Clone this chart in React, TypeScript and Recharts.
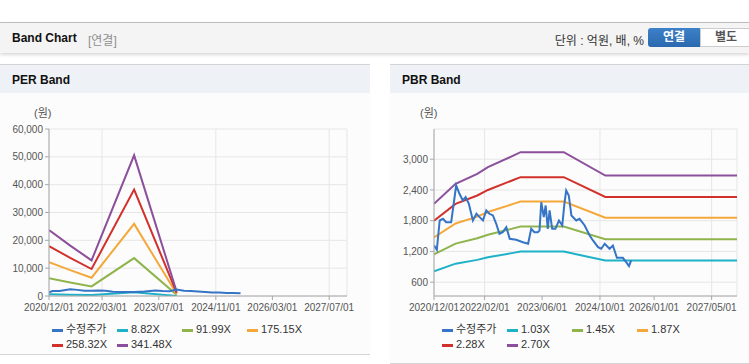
import React from 'react';
import { LineChart, Line, XAxis, YAxis, CartesianGrid } from 'recharts';

// x axis (shared time span)
const xStart = '2020/12/01';
const xEnd = '2027/12/01';
const perXTicks = ['2020/12/01', '2022/03/01', '2023/07/01', '2024/11/01', '2026/03/01', '2027/07/01'];
const pbrXTicks = ['2020/12/01', '2022/02/01', '2023/06/01', '2024/10/01', '2026/01/01', '2027/05/01'];

// y axis
const perYTicks = [0, 10000, 20000, 30000, 40000, 50000, 60000];
const pbrYTicks = [600, 1200, 1800, 2400, 3000];

// PER band
const perBandDates = ['2020/12/01', '2021/06/01', '2021/12/01', '2022/12/01', '2023/12/01'];
const per882 = [610, 470, 330, 1305, 40];
const per9199 = [6390, 4880, 3450, 13610, 415];
const per17515 = [12170, 9280, 6570, 25920, 790];
const per25832 = [17950, 13690, 9690, 38230, 1160];
const per34148 = [23730, 18100, 12800, 50540, 1540];

const perPriceDates = [
  '2020/12/01', '2021/01/01', '2021/03/01', '2021/06/01', '2021/08/01', '2021/10/01', '2021/12/01',
  '2022/02/01', '2022/04/01', '2022/06/01', '2022/09/01', '2022/12/01', '2023/03/01', '2023/06/01',
  '2023/08/01', '2023/10/01', '2023/12/01', '2024/02/01', '2024/04/01', '2024/06/01', '2024/08/01',
  '2024/10/01', '2024/12/01', '2025/02/01', '2025/04/01', '2025/06/01',
];
const perPrice = [
  1300, 1800, 1800, 2450, 2200, 1850, 1900, 2000, 1900, 1550, 1450, 1400, 1600, 1950,
  1800, 1750, 2350, 1900, 1800, 1600, 1400, 1250, 1280, 1100, 1070, 1000,
];

// PBR band
const pbrBandDates = [
  '2020/12/01', '2021/06/01', '2021/12/01', '2022/03/01', '2022/10/01', '2022/12/01',
  '2023/12/01', '2024/11/15', '2027/12/01',
];
const pbr103 = [813, 961, 1035, 1085, 1172, 1197, 1197, 1023, 1023];
const pbr145 = [1144, 1353, 1457, 1527, 1650, 1685, 1685, 1440, 1440];
const pbr187 = [1475, 1745, 1880, 1970, 2128, 2173, 2173, 1857, 1857];
const pbr228 = [1800, 2128, 2292, 2400, 2595, 2650, 2650, 2264, 2264];
const pbr270 = [2130, 2520, 2715, 2845, 3070, 3137, 3137, 2680, 2680];

const pbrPriceDates = [
  '2020/12/01', '2020/12/25', '2021/01/18', '2021/02/15', '2021/03/13', '2021/04/25', '2021/06/06',
  '2021/07/04', '2021/08/01', '2021/08/25', '2021/09/21', '2021/10/25', '2021/11/24', '2021/12/21',
  '2022/01/18', '2022/02/15', '2022/03/13', '2022/04/12', '2022/05/10', '2022/06/06', '2022/07/04',
  '2022/08/03', '2022/09/01', '2022/10/25', '2022/12/21', '2023/02/03', '2023/03/01', '2023/03/28',
  '2023/04/25', '2023/05/10', '2023/05/25', '2023/06/15', '2023/07/01', '2023/07/19', '2023/08/03',
  '2023/08/25', '2023/09/21', '2023/10/21', '2023/11/18', '2023/12/06', '2023/12/21', '2024/01/12',
  '2024/02/03', '2024/03/15', '2024/04/12', '2024/05/25', '2024/07/06', '2024/08/03', '2024/09/15',
  '2024/10/12', '2024/11/10', '2024/12/21', '2025/01/18', '2025/02/21', '2025/04/12', '2025/05/10',
  '2025/06/03', '2025/06/21',
];
const pbrPrice = [
  1320, 1232, 1804, 1837, 1771, 1771, 2487,
  2325, 2194, 2259, 2130, 1804, 1935, 1869,
  1804, 2000, 1935, 1902, 1740, 1545, 1576,
  1674, 1447, 1427, 1380, 1349, 1642, 1576,
  1576, 1609, 2161, 1869, 2097, 1642, 2000,
  1642, 1642, 1804, 1707, 2130, 2389, 2292,
  1902, 1804, 1837, 1707, 1511, 1414, 1283,
  1252, 1349, 1252, 1316, 1076, 1076, 991,
  913, 1024,
];

const colors = {
  price: '#3574c6',
  teal: '#1eb1c8',
  green: '#8fb44c',
  orange: '#f5a83a',
  red: '#d2302b',
  purple: '#8c4f9b',
};

const FONT = '"Liberation Sans", Arial, "Noto Sans CJK KR", sans-serif';

const toTime = (s: string) => {
  const [y, m, d] = s.split('/').map(Number);
  return Date.UTC(y, m - 1, d);
};
const fmtDate = (t: number) => {
  const d = new Date(t);
  const mm = String(d.getUTCMonth() + 1).padStart(2, '0');
  const dd = String(d.getUTCDate()).padStart(2, '0');
  return `${d.getUTCFullYear()}/${mm}/${dd}`;
};
const rows = (dates: string[], values: number[]) => dates.map((s, i) => ({ t: toTime(s), v: values[i] }));

interface Series {
  name: string;
  color: string;
  dates: string[];
  values: number[];
}

const perSeries: Series[] = [
  { name: '수정주가', color: colors.price, dates: perPriceDates, values: perPrice },
  { name: '8.82X', color: colors.teal, dates: perBandDates, values: per882 },
  { name: '91.99X', color: colors.green, dates: perBandDates, values: per9199 },
  { name: '175.15X', color: colors.orange, dates: perBandDates, values: per17515 },
  { name: '258.32X', color: colors.red, dates: perBandDates, values: per25832 },
  { name: '341.48X', color: colors.purple, dates: perBandDates, values: per34148 },
];

const pbrSeries: Series[] = [
  { name: '수정주가', color: colors.price, dates: pbrPriceDates, values: pbrPrice },
  { name: '1.03X', color: colors.teal, dates: pbrBandDates, values: pbr103 },
  { name: '1.45X', color: colors.green, dates: pbrBandDates, values: pbr145 },
  { name: '1.87X', color: colors.orange, dates: pbrBandDates, values: pbr187 },
  { name: '2.28X', color: colors.red, dates: pbrBandDates, values: pbr228 },
  { name: '2.70X', color: colors.purple, dates: pbrBandDates, values: pbr270 },
];

interface BandProps {
  series: Series[];
  xTicks: string[];
  yTicks: number[];
  yDomain: [number, number];
  width: number;
  yAxisWidth: number;
  marginRight: number;
}

function BandLines({ series, xTicks, yTicks, yDomain, width, yAxisWidth, marginRight }: BandProps) {
  const xDomain = [toTime(xStart), toTime(xEnd)];
  const tickStyle = { fontSize: 10, fill: '#555', fontFamily: FONT };
  // band lines first, price line on top
  const ordered = [...series.slice(1), series[0]];
  return (
    <LineChart width={width} height={226} margin={{ top: 29, right: marginRight, bottom: 0, left: 0 }}>
      <CartesianGrid stroke="#e6e6e6" />
      <XAxis
        dataKey="t"
        type="number"
        domain={xDomain}
        ticks={xTicks.map(toTime)}
        tickFormatter={fmtDate}
        allowDataOverflow
        height={30}
        stroke="#a8a8a8"
        tickSize={4}
        tickMargin={4}
        tick={tickStyle}
      />
      <XAxis xAxisId="top" orientation="top" type="number" domain={xDomain} height={0} tick={false} tickLine={false} stroke="#a8a8a8" />
      <YAxis
        type="number"
        domain={yDomain}
        ticks={yTicks}
        allowDataOverflow
        width={yAxisWidth}
        stroke="#a8a8a8"
        tickSize={4}
        tickMargin={2}
        tick={tickStyle}
        tickFormatter={(v: number) => v.toLocaleString('en-US')}
      />
      <YAxis yAxisId="right" orientation="right" width={0} tick={false} tickLine={false} stroke="#a8a8a8" />
      {ordered.map((s) => (
        <Line
          key={s.name}
          data={rows(s.dates, s.values)}
          dataKey="v"
          type="linear"
          stroke={s.color}
          strokeWidth={2}
          dot={false}
          activeDot={false}
          isAnimationActive={false}
        />
      ))}
    </LineChart>
  );
}

function LegendBox({ series, left }: { series: Series[]; left: number }) {
  return (
    <div style={{ position: 'absolute', left, top: 322, width: 270, fontFamily: FONT, fontSize: 11, color: '#333' }}>
      {series.map((s, i) => (
        <div
          key={s.name}
          style={{
            position: 'absolute',
            left: (i % 4) * 65,
            top: Math.floor(i / 4) * 15,
            height: 15,
            lineHeight: '15px',
            whiteSpace: 'nowrap',
          }}
        >
          <span style={{ display: 'inline-block', width: 11, height: 3, background: s.color, verticalAlign: 'middle', marginRight: 3 }} />
          {s.name}
        </div>
      ))}
    </div>
  );
}

function Panel({ title, left, width, bottom, children }: { title: string; left: number; width: number; bottom: number; children: React.ReactNode }) {
  return (
    <div
      style={{
        position: 'absolute',
        left,
        top: 64,
        width,
        height: bottom - 64,
        borderTop: '1px solid #d4d4d4',
        borderBottom: '1px solid #d4d4d4',
        background: '#fcfcfc',
        boxSizing: 'border-box',
      }}
    >
      <div
        style={{
          height: 28,
          background: '#eef1f6',
          fontFamily: FONT,
          fontWeight: 'bold',
          fontSize: 12,
          lineHeight: '30px',
          paddingLeft: 12,
          color: '#111',
        }}
      >
        {title}
      </div>
      {children}
    </div>
  );
}

export default function App() {
  return (
    <div style={{ position: 'absolute', left: 0, top: 0, width: 749, height: 364, background: '#fff', overflow: 'hidden', fontFamily: FONT }}>
      {/* header bar */}
      <div
        style={{
          position: 'absolute',
          left: 0,
          top: 22,
          width: 749,
          height: 31,
          borderTop: '1px solid #bdbdbd',
          background: '#f4f4f4',
          boxShadow: '0 2px 3px rgba(0,0,0,0.15)',
          boxSizing: 'border-box',
        }}
      >
        <span style={{ position: 'absolute', left: 12, top: 8, fontSize: 12, fontWeight: 'bold', color: '#111' }}>Band Chart</span>
        <span style={{ position: 'absolute', left: 88, top: 8, fontSize: 12, color: '#8f8f8f' }}>[연결]</span>
        <span style={{ position: 'absolute', right: 105, top: 8, fontSize: 12, color: '#333' }}>단위 : 억원, 배, %</span>
        <div
          style={{
            position: 'absolute',
            left: 648,
            top: 5,
            width: 52,
            height: 19,
            borderRadius: '3px 0 0 3px',
            background: 'linear-gradient(#3d81c8, #2b69ae)',
            color: '#fff',
            fontSize: 12,
            fontWeight: 'bold',
            textAlign: 'center',
            lineHeight: '19px',
          }}
        >
          연결
        </div>
        <div
          style={{
            position: 'absolute',
            left: 700,
            top: 5,
            width: 52,
            height: 19,
            border: '1px solid #ccc',
            boxSizing: 'border-box',
            background: '#fff',
            color: '#555',
            fontSize: 12,
            fontWeight: 'bold',
            textAlign: 'center',
            lineHeight: '17px',
          }}
        >
          별도
        </div>
      </div>

      <Panel title="PER Band" left={0} width={370} bottom={355}>
        <span style={{ position: 'absolute', left: 34, top: 42, fontSize: 11, lineHeight: '13px', color: '#555' }}>(원)</span>
      </Panel>
      <Panel title="PBR Band" left={390} width={359} bottom={364}>
        <span style={{ position: 'absolute', left: 30, top: 42, fontSize: 11, lineHeight: '13px', color: '#555' }}>(원)</span>
      </Panel>

      <div style={{ position: 'absolute', left: 0, top: 100 }}>
        <BandLines series={perSeries} xTicks={perXTicks} yTicks={perYTicks} yDomain={[0, 60000]} width={370} yAxisWidth={49} marginRight={23} />
      </div>
      <div style={{ position: 'absolute', left: 390, top: 100 }}>
        <BandLines series={pbrSeries} xTicks={pbrXTicks} yTicks={pbrYTicks} yDomain={[330, 3590]} width={359} yAxisWidth={44} marginRight={12} />
      </div>

      <LegendBox series={perSeries} left={52} />
      <LegendBox series={pbrSeries} left={442} />
    </div>
  );
}
